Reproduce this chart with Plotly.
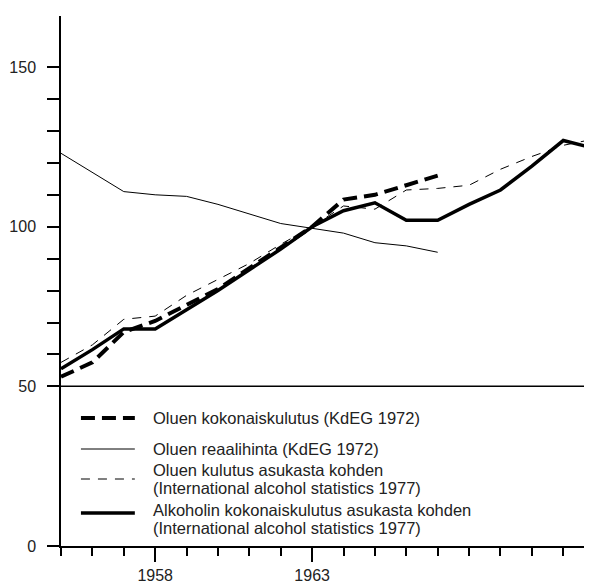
import plotly.graph_objects as go

YEARS = list(range(1955, 1973))

# Oluen kokonaiskulutus (KdEG 1972), 1955-1967
BEER_TOTAL = [53, 57.5, 67, 70.5, 75.5, 80.5, 87, 93.5, 100, 108.5, 110, 113, 116]
# Oluen reaalihinta (KdEG 1972), 1955-1967
BEER_PRICE = [123, 117, 111, 110, 109.5, 107, 104, 101, 99.5, 98, 95, 94, 92]
# Oluen kulutus asukasta kohden, 1955-1972
BEER_PER_CAPITA = [57.5, 63, 71, 72, 78.5, 83.5, 88.5, 94.5, 100, 106.5, 105.5, 111.5,
                   112, 113, 118, 122, 125.5, 127.5]
# Alkoholin kokonaiskulutus asukasta kohden, 1955-1972
ALCOHOL_PER_CAPITA = [55.5, 61.5, 68, 68, 74, 80, 86.5, 93, 100, 105, 107.5, 102,
                      102, 107, 111.5, 119, 127, 124.5]

Y_TICKS = [0, 50, 60, 70, 80, 90, 100, 110, 120, 130, 140, 150]
Y_LABELED = [0, 50, 100, 150]
X_LABELED = [1958, 1963]
REF_LEVEL = 50

FONT = "Liberation Sans, Arial, sans-serif"

SERIES = [
    (["Oluen kokonaiskulutus (KdEG 1972)"], BEER_TOTAL, 4, "14px,7px"),
    (["Oluen reaalihinta (KdEG 1972)"], BEER_PRICE, 1, "solid"),
    (["Oluen kulutus asukasta kohden", "(International alcohol statistics 1977)"],
     BEER_PER_CAPITA, 1, "9px,8px"),
    (["Alkoholin kokonaiskulutus asukasta kohden", "(International alcohol statistics 1977)"],
     ALCOHOL_PER_CAPITA, 3.5, "solid"),
]

# hand-placed legend: paper y of sample line, paper y of each text line
LEGEND_ROWS = [
    (0.2415, [0.2415]),
    (0.183, [0.183]),
    (0.1264, [0.1434, 0.1094]),
    (0.0623, [0.0679, 0.034]),
]

fig = go.Figure()
for lines, vals, width, dash in SERIES:
    fig.add_trace(go.Scatter(
        x=YEARS[:len(vals)], y=vals, mode="lines", name=" ".join(lines),
        line=dict(color="black", width=width, dash=dash),
        showlegend=False,
    ))

shapes = [dict(type="line", xref="paper", x0=0, x1=1, yref="y", y0=REF_LEVEL, y1=REF_LEVEL,
               line=dict(color="black", width=1.5))]
annotations = []
for (lines, vals, width, dash), (ly, text_ys) in zip(SERIES, LEGEND_ROWS):
    shapes.append(dict(type="line", xref="paper", yref="paper", x0=0.037, x1=0.137,
                       y0=ly, y1=ly, line=dict(color="black", width=width, dash=dash)))
    for text, ty in zip(lines, text_ys):
        annotations.append(dict(text=text, xref="paper", yref="paper", x=0.167, y=ty,
                                xanchor="left", yanchor="middle", showarrow=False,
                                font=dict(family=FONT, size=16.5, color="#222")))

fig.update_layout(
    width=592, height=584,
    margin=dict(l=53, r=0, t=8, b=46),
    paper_bgcolor="white", plot_bgcolor="white",
    shapes=shapes, annotations=annotations,
    font=dict(family=FONT, size=16, color="#222"),
    xaxis=dict(
        range=[1955, 1972.17], showgrid=False, zeroline=False,
        showline=True, linecolor="black", linewidth=1.5,
        tickvals=X_LABELED, ticktext=[str(v) for v in X_LABELED],
        ticks="outside", ticklen=14, tickwidth=1.5, tickcolor="black",
        ticklabelstandoff=0,
        minor=dict(dtick=1, tick0=1955, ticks="outside", ticklen=8, tickwidth=1.5,
                   tickcolor="black", showgrid=False),
    ),
    yaxis=dict(
        range=[0, 166], showgrid=False, zeroline=False,
        showline=True, linecolor="black", linewidth=1.5,
        tickvals=Y_TICKS,
        ticktext=[str(v) if v in Y_LABELED else "" for v in Y_TICKS],
        ticks="outside", ticklen=12, tickwidth=1.5, tickcolor="black",
        ticklabelstandoff=8,
    ),
)

fig.write_html("out.html")
